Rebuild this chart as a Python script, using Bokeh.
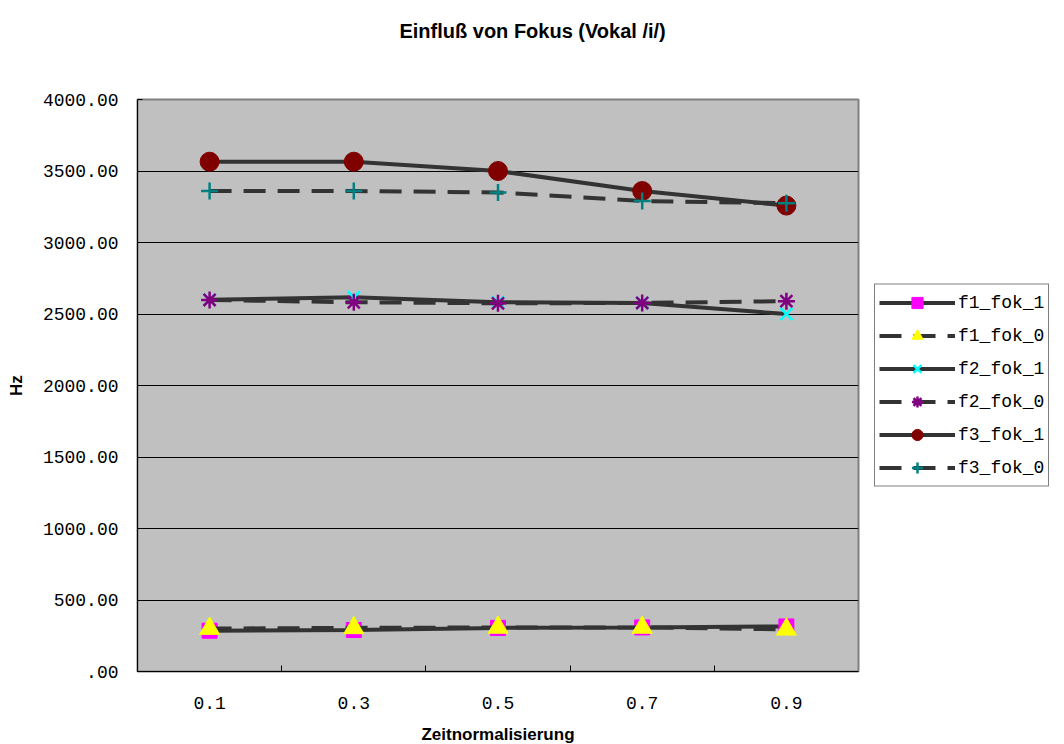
from bokeh.plotting import figure
from bokeh.models import (ColumnDataSource, Legend, LegendItem, FixedTicker, Range1d, LinearAxis)
from bokeh.embed import file_html
from bokeh.resources import INLINE

# ---- data ----
title_text = "Einfluß von Fokus (Vokal /i/)"
categories = ["0.1", "0.3", "0.5", "0.7", "0.9"]
f1_fok_1 = [285, 290, 305, 308, 315]
f1_fok_0 = [300, 305, 308, 308, 295]
f2_fok_1 = [2600, 2617, 2582, 2577, 2500]
f2_fok_0 = [2598, 2582, 2575, 2577, 2590]
f3_fok_1 = [3565, 3565, 3500, 3360, 3258]
f3_fok_0 = [3360, 3360, 3350, 3290, 3275]
y_ticks = [0, 500, 1000, 1500, 2000, 2500, 3000, 3500, 4000]
y_tick_labels = [".00", "500.00", "1000.00", "1500.00", "2000.00", "2500.00", "3000.00", "3500.00", "4000.00"]

series = [
    ("f1_fok_1", f1_fok_1, "solid", "square", "#FF00FF", 15),
    ("f1_fok_0", f1_fok_0, "22 12", "triangle", "#FFFF00", 20),
    ("f2_fok_1", f2_fok_1, "solid", "x", "#00FFFF", 17),
    ("f2_fok_0", f2_fok_0, "22 12", "asterisk", "#800080", 17),
    ("f3_fok_1", f3_fok_1, "solid", "circle", "#800000", 19),
    ("f3_fok_0", f3_fok_0, "22 12", "cross", "#008080", 17),
]

xpos = [i + 0.5 for i in range(len(categories))]
title_x = 2.74  # centre of the page width, in x-data units

p = figure(frame_width=721, frame_height=572, output_backend="svg", toolbar_location=None,
           x_range=Range1d(0, len(categories)), y_range=Range1d(0, 4000),
           min_border_left=137, min_border_right=206, min_border_top=99, min_border_bottom=73)

p.border_fill_color = "white"
p.background_fill_color = "#C0C0C0"
p.outline_line_color = "#808080"
p.outline_line_width = 2

xa = p.below[0]
ya = p.left[0]

# chart title drawn as the single label of a line-less axis above the frame
top_axis = LinearAxis(ticker=FixedTicker(ticks=[title_x], minor_ticks=[]),
                      major_label_overrides={title_x: title_text},
                      axis_line_color=None, major_tick_line_color=None,
                      minor_tick_line_color=None, major_tick_in=0, major_tick_out=0,
                      minor_tick_in=0, minor_tick_out=0, major_label_standoff=58,
                      major_label_text_font="Liberation Sans",
                      major_label_text_font_style="bold",
                      major_label_text_font_size="20px",
                      major_label_text_color="black")
p.add_layout(top_axis, "above")

# axes
xa.ticker = FixedTicker(ticks=xpos, minor_ticks=[1, 2, 3, 4])
xa.major_label_overrides = {x: c for x, c in zip(xpos, categories)}
xa.major_tick_in = 0
xa.major_tick_out = 0
xa.minor_tick_in = 6
xa.minor_tick_out = 0
xa.minor_tick_line_color = "black"
xa.major_label_standoff = 25
xa.axis_label = "Zeitnormalisierung"
xa.axis_label_standoff = 13

ya.ticker = FixedTicker(ticks=y_ticks, minor_ticks=[])
ya.major_label_overrides = {t: l for t, l in zip(y_ticks, y_tick_labels)}
ya.major_tick_in = 5
ya.major_tick_out = 0
ya.major_label_standoff = 19
ya.axis_label = "Hz"
ya.axis_label_standoff = 14

for ax in (xa, ya):
    ax.axis_line_color = "black"
    ax.axis_line_width = 1
    ax.major_tick_line_color = "black"
    ax.major_label_text_font = "Liberation Mono"
    ax.major_label_text_font_size = "18px"
    ax.major_label_text_color = "black"
    ax.axis_label_text_font = "Liberation Sans"
    ax.axis_label_text_font_style = "bold"
    ax.axis_label_text_font_size = "17px"
    ax.axis_label_text_color = "black"

p.xgrid.grid_line_color = None
p.ygrid.ticker = FixedTicker(ticks=y_ticks)
p.ygrid.grid_line_color = "black"
p.ygrid.grid_line_width = 1

items = []
for name, vals, dash, marker, color, size in series:
    src = ColumnDataSource(dict(x=xpos, y=vals))
    ln = p.line("x", "y", source=src, line_color="#333333", line_width=4, line_dash=dash)
    if marker in ("x", "asterisk", "cross"):
        mk = p.scatter("x", "y", source=src, marker=marker, size=size,
                       line_color=color, line_width=2.5)
    else:
        mk = p.scatter("x", "y", source=src, marker=marker, size=size,
                       fill_color=color, line_color=color)
    items.append(LegendItem(label=name, renderers=[ln, mk]))

legend = Legend(items=items, location="left", orientation="vertical",
                glyph_width=76, glyph_height=28, spacing=5, padding=4, margin=16,
                label_standoff=3, label_text_font="Liberation Mono",
                label_text_font_size="18px", label_text_color="black",
                border_line_color="black", border_line_width=1,
                background_fill_color="white", background_fill_alpha=1.0)
p.add_layout(legend, "right")

open("out.html", "w").write(file_html(p, INLINE))
